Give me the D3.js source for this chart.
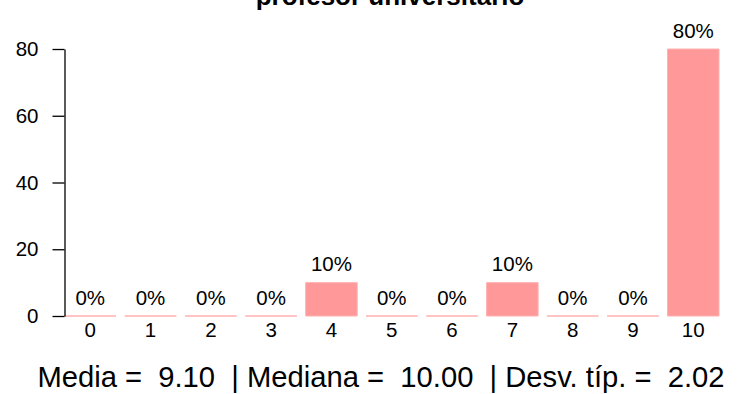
<!DOCTYPE html>
<html>
<head>
<meta charset="utf-8">
<script src="https://cdn.jsdelivr.net/npm/d3@7"></script>
<style>
  html, body { margin: 0; padding: 0; background: #fff; }
  svg { display: block; font-family: "Liberation Sans", Arial, sans-serif; }
  text { white-space: pre; }
</style>
</head>
<body>
<svg id="chart" width="746" height="394"></svg>
<script>
const categories = ["0","1","2","3","4","5","6","7","8","9","10"];
const values = [0,0,0,0,10,0,0,10,0,0,80];
const barLabels = ["0%","0%","0%","0%","10%","0%","0%","10%","0%","0%","80%"];
const yTicks = [0,20,40,60,80];
const titleText = "profesor universitario";
const statsText = "Media =  9.10  | Mediana =  10.00  | Desv. típ. =  2.02";

const svg = d3.select("#chart");
const x = d3.scaleBand().domain(categories).range([64.5, 719]).paddingInner(0.146).paddingOuter(0);
const y = d3.scaleLinear().domain([0, 80]).range([316, 49]);

// title (cut off at top, as in the reference)
svg.append("text").attr("x", 390).attr("y", 5).attr("text-anchor", "middle")
  .attr("font-size", 26).attr("font-weight", "bold").attr("fill", "#000").text(titleText);

// bars
svg.append("g").selectAll("path").data(values).join("path")
  .attr("d", (d, i) => {
    const x0 = x(categories[i]), x1 = x0 + x.bandwidth();
    return `M${x0},${y(0)}H${x1}V${y(d)}H${x0}Z`;
  })
  .attr("fill", "#FF9999").attr("stroke", "#FFB0B0").attr("stroke-width", 1);

// bar labels
svg.append("g").selectAll("text").data(values).join("text")
  .attr("x", (d, i) => x(categories[i]) + x.bandwidth() / 2)
  .attr("y", d => y(d) - 11.5)
  .attr("text-anchor", "middle").attr("font-size", 20.5).attr("fill", "#000")
  .text((d, i) => barLabels[i]);

// category labels
svg.append("g").selectAll("text").data(categories).join("text")
  .attr("x", d => x(d) + x.bandwidth() / 2)
  .attr("y", 336.5)
  .attr("text-anchor", "middle").attr("font-size", 20.5).attr("fill", "#000")
  .text(d => d);

// y axis
const yAxis = svg.append("g").attr("transform", "translate(64.5,0)")
  .call(d3.axisLeft(y).tickValues(yTicks).tickSize(12).tickSizeOuter(0).tickPadding(14));
yAxis.select(".domain").attr("stroke", "#000").attr("stroke-width", 1.3);
yAxis.selectAll(".tick line").attr("stroke", "#000").attr("stroke-width", 1.3);
yAxis.selectAll(".tick text").attr("font-size", 20.5).attr("fill", "#000")
  .attr("font-family", "Liberation Sans, Arial, sans-serif");

// stats line
svg.append("text").attr("x", 381).attr("y", 386.5).attr("text-anchor", "middle")
  .attr("font-size", 29.2).attr("fill", "#000").text(statsText);
</script>
</body>
</html>
